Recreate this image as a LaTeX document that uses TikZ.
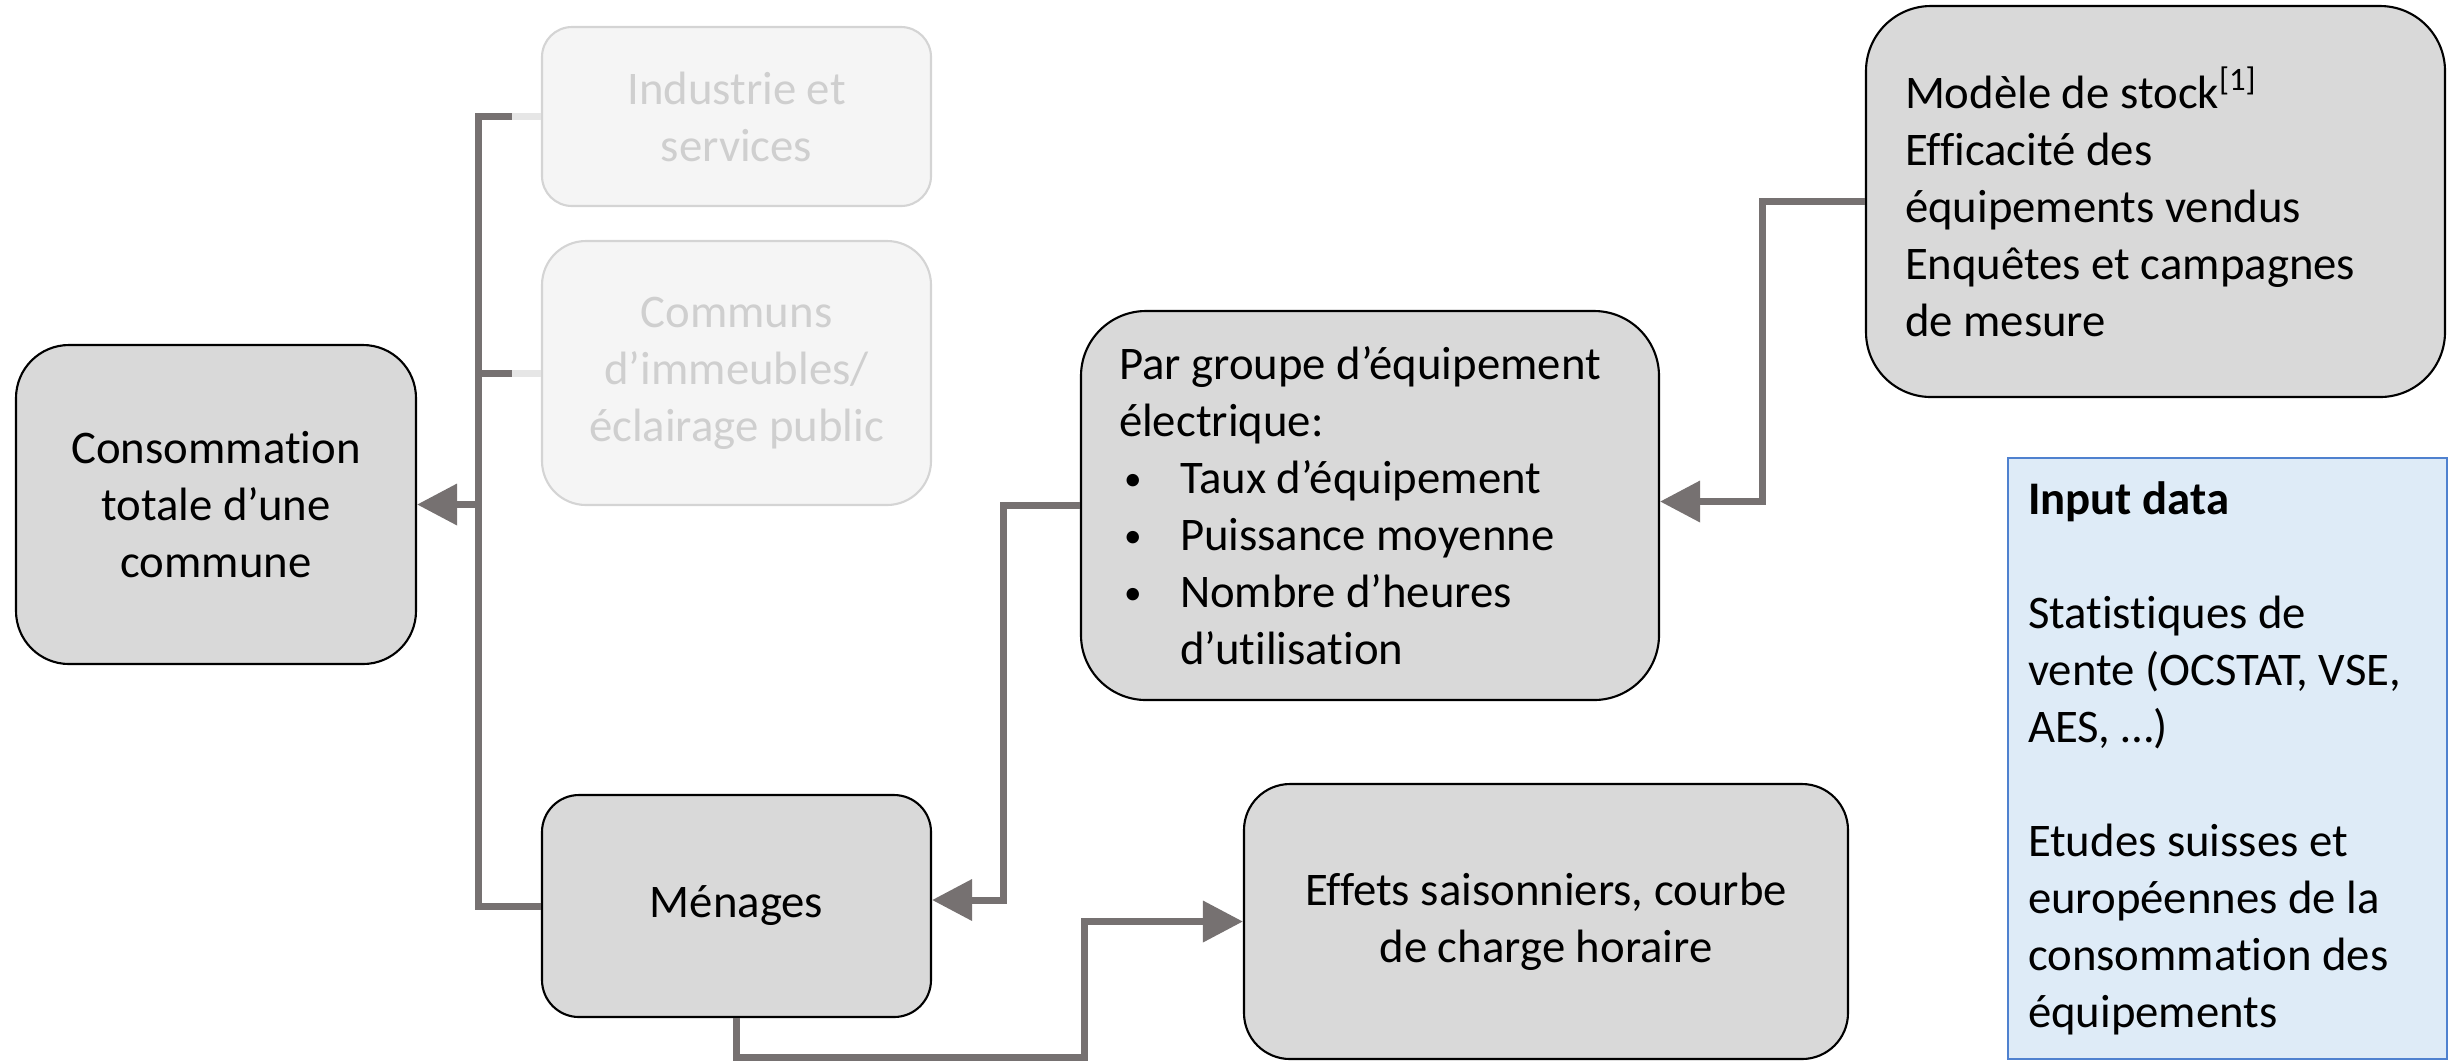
\documentclass[tikz,border=0pt]{standalone}
\usepackage{fontspec}
\setmainfont{Carlito}[Ligatures=NoCommon]
\usetikzlibrary{arrows.meta}

\definecolor{boxgray}{HTML}{D9D9D9}
\definecolor{linkgray}{HTML}{767171}
\definecolor{fadefill}{HTML}{F5F5F5}
\definecolor{fadeline}{HTML}{D4D4D4}
\definecolor{fadetext}{HTML}{CFCFCF}
\definecolor{fadelink}{HTML}{E6E6E6}
\definecolor{inputfill}{HTML}{DEEBF7}
\definecolor{inputline}{HTML}{4F81CF}

% small bullet for the equipment list
\newcommand{\itemdot}{\hspace*{0.05cm}\makebox[0.56cm][l]{\fontsize{10pt}{10pt}\selectfont\raisebox{0.9pt}{•}}}

\begin{document}
\begin{tikzpicture}[
        txt/.style={font=\fontsize{13.3pt}{16.2pt}\selectfont},
        box/.style={txt, draw=black, line width=0.6pt, fill=boxgray, inner sep=0pt, align=center},
        faded/.style={txt, draw=fadeline, line width=0.6pt, fill=fadefill, text=fadetext, inner sep=0pt, align=center},
        link/.style={draw=linkgray, line width=0.07cm},
        fadedlink/.style={draw=fadelink, line width=0.07cm},
        arrow/.style={link, -{Triangle[length=0.4cm, width=0.4cm]}}]
            \useasboundingbox (0, 0) rectangle (24.5, -10.61);
            % left column
            \node[box, minimum width=4cm, minimum height=3.19cm, rounded corners=0.53cm](1) at (2.16, -5.045) {Consommation\\totale d’une\\commune};
            % sectors
            \node[faded, minimum width=3.89cm, minimum height=1.79cm, rounded corners=0.3cm](2) at (7.365, -1.165) {Industrie et\\services};
            \node[faded, minimum width=3.89cm, minimum height=2.64cm, rounded corners=0.44cm](3) at (7.365, -3.73) {Communs\\d’immeubles/\\éclairage public};
            \node[box, minimum width=3.89cm, minimum height=2.22cm, rounded corners=0.37cm](4) at (7.365, -9.06) {Ménages};
            % equipment groups and sources
            \node[box, minimum height=3.89cm, rounded corners=0.65cm, inner xsep=0.38cm, text width=5.02cm, align=flush left](5) at (13.70, -5.055) {Par groupe d’équipement\\électrique:\\
                \itemdot Taux d’équipement\\
                \itemdot Puissance moyenne\\
                \itemdot Nombre d’heures\\
                \hspace*{0.61cm}d’utilisation};
            \node[box, minimum height=3.91cm, rounded corners=0.65cm, inner xsep=0.39cm, text width=5.01cm, align=flush left](6) at (21.555, -2.015) {Modèle de stock\textsuperscript{[1]}\\Efficacité des\\équipements vendus\\Enquêtes et campagnes\\de mesure};
            \node[txt, draw=inputline, line width=0.6pt, fill=inputfill, inner xsep=0.2cm, inner ysep=0pt, text width=3.99cm, minimum height=6.01cm, align=flush left](7) at (22.275, -7.585) {\textbf{Input data}\\[16.2pt]Statistiques de\\vente (OCSTAT, VSE,\\AES, …)\\[16.2pt]Etudes suisses et\\européennes de la\\consommation des\\équipements};
            \node[box, minimum width=6.04cm, minimum height=2.75cm, rounded corners=0.46cm](8) at (15.46, -9.215) {Effets saisonniers, courbe\\de charge horaire};
            % trunk into the total
            \draw[link] (2.west) -- ++(-0.625, 0) coordinate(t) |- (4.west);
            \draw[link] (3.west) -- (3.west -| t);
            \draw[fadedlink] (2.west) -- ++(-0.29, 0);
            \draw[fadedlink] (3.west) -- ++(-0.29, 0);
            \draw[arrow] (t |- 1.east) -- (1.east);
            % inputs
            \draw[arrow] (5.west) -- ++(-0.76, 0) |- ([yshift=0.06cm]4.east);
            \draw[arrow] (6.west) -- ++(-1.02, 0) |- ([yshift=0.04cm]5.east);
            \draw[arrow] (4.south) -- ++(0, -0.395) -| ([xshift=-1.58cm]8.west) -- (8.west);
        \end{tikzpicture}
\end{document}
